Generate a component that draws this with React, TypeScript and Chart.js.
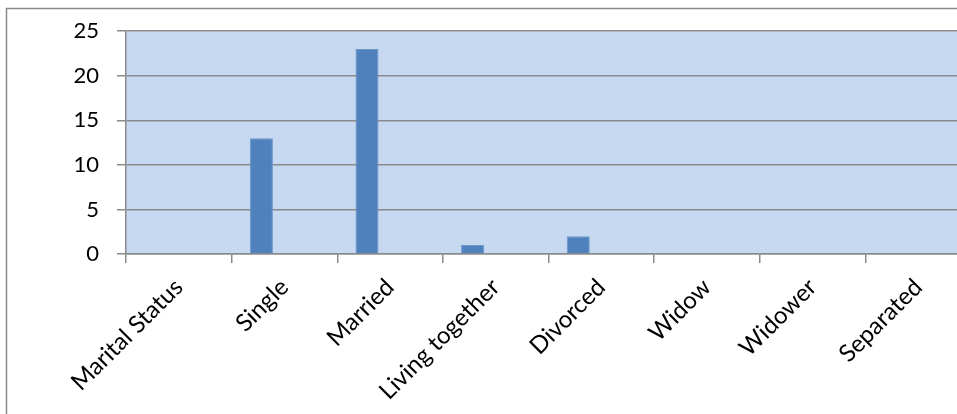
import React, { useEffect, useRef } from "react";
import { Chart, registerables } from "chart.js";

Chart.register(...registerables);

const categories = ["Marital Status", "Single", "Married", "Living together", "Divorced", "Widow", "Widower", "Separated"];
const counts = [0, 13, 23, 1, 2, 0, 0, 0];
// Two empty series from the source sheet: they hold their slots in each group but draw nothing
const emptySeriesB = [null, null, null, null, null, null, null, null];
const emptySeriesC = [null, null, null, null, null, null, null, null];
const yTicks = [0, 5, 10, 15, 20, 25];

const CANVAS_W = 1000;
const CANVAS_H = 414;
const FONT = "Lato, 'Open Sans', sans-serif";

const framePlugin = {
  id: "frame",
  beforeDraw(chart: any) {
    const { ctx, chartArea } = chart;
    ctx.save();
    ctx.fillStyle = "#ffffff";
    ctx.fillRect(0, 0, chart.width, chart.height);
    ctx.strokeStyle = "#8a8a8a";
    ctx.lineWidth = 1.5;
    ctx.strokeRect(6.5, 8.5, chart.width + 50, chart.height + 50);
    ctx.fillStyle = "#C6D9F1";
    ctx.fillRect(chartArea.left, chartArea.top, chartArea.right - chartArea.left, chartArea.bottom - chartArea.top);
    ctx.restore();
  },
};

const barStyle = {
  backgroundColor: "#4F81BD",
  borderColor: "#6D97CB",
  borderWidth: 1,
  categoryPercentage: 0.655,
  barPercentage: 1,
};

export default function App() {
  const ref = useRef<HTMLCanvasElement | null>(null);
  useEffect(() => {
    if (!ref.current) return;
    const chart = new Chart(ref.current, {
      type: "bar",
      data: {
        labels: categories,
        datasets: [
          { data: counts, ...barStyle },
          { data: emptySeriesB, ...barStyle },
          { data: emptySeriesC, ...barStyle },
        ],
      },
      options: {
        responsive: false,
        animation: false,
        layout: { padding: { top: 24, right: CANVAS_W - 971, left: 0, bottom: 0 } },
        plugins: { legend: { display: false }, tooltip: { enabled: false } },
        scales: {
          x: {
            offset: true,
            grid: {
              offset: true,
              drawOnChartArea: false,
              drawTicks: true,
              tickLength: 9,
              color: "#8a8a8a",
              lineWidth: 1.5,
            },
            border: { display: true, color: "#8a8a8a", width: 1.5 },
            ticks: {
              autoSkip: false,
              maxRotation: 45,
              minRotation: 45,
              padding: 10,
              color: "#000000",
              font: { family: FONT, size: 24 },
            },
            afterFit: (s: any) => {
              s.height = 160;
            },
          },
          y: {
            min: 0,
            max: 25,
            afterBuildTicks: (s: any) => {
              s.ticks = yTicks.map((v) => ({ value: v }));
            },
            grid: {
              drawOnChartArea: true,
              drawTicks: true,
              tickLength: 9,
              color: "#8a8a8a",
              lineWidth: 1.5,
            },
            border: { display: true, color: "#8a8a8a", width: 1.5 },
            ticks: {
              padding: 18,
              color: "#000000",
              font: { family: FONT, size: 22 },
            },
            afterFit: (s: any) => {
              s.width = 126;
            },
          },
        },
      },
      plugins: [framePlugin],
    });
    return () => chart.destroy();
  }, []);

  return (
    <div style={{ position: "fixed", left: 0, top: 0, width: 957, height: 414, overflow: "hidden", background: "#fff" }}>
      <canvas ref={ref} width={CANVAS_W} height={CANVAS_H} style={{ display: "block" }} />
    </div>
  );
}
